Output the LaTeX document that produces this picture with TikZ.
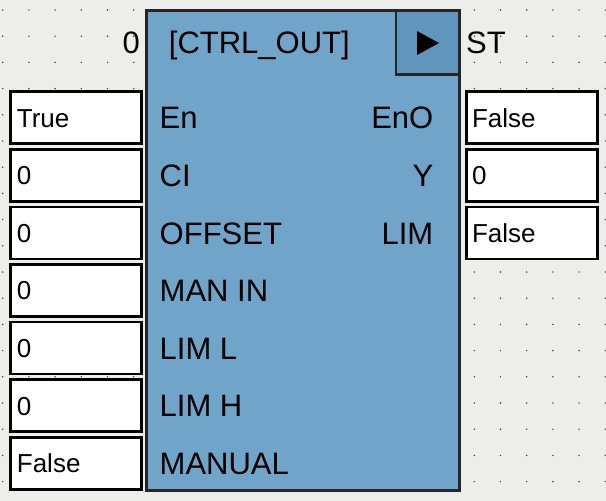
\documentclass[tikz,border=0pt]{standalone}
\usepackage{fontspec}
\setmainfont{Liberation Sans}
\definecolor{bgc}{HTML}{EDEDEB}
\definecolor{blkc}{HTML}{70A4C8}
\definecolor{trgc}{HTML}{6096BD}
\definecolor{dotc}{HTML}{3A3A3A}

\begin{document}
\begin{tikzpicture}[x=1pt,y=-1pt,
  valbox/.style={draw=black,line width=2.6pt,fill=white,minimum width=131pt,minimum height=52pt,inner sep=0pt},
  valtxt/.style={font=\fontsize{26}{30}\selectfont,text height=18.6pt,text depth=0pt,inner sep=0pt,anchor=west},
  pintxt/.style={font=\fontsize{31}{37}\selectfont,text height=22.2pt,text depth=0pt,inner sep=0pt}]
  \fill[bgc] (0,0) rectangle (606,501);
  \useasboundingbox (0,0) rectangle (606,501);
  % dot grid
  \foreach \i in {0,...,23}
    \foreach \j in {0,...,18}
      \fill[dotc] (2.7+26.2*\i,10+26.2*\j) circle (0.8pt);
  % block
  \node[draw=black!85,line width=2.6pt,fill=blkc,minimum width=313pt,minimum height=480pt,inner sep=0pt] (blk) at (303,250.7) {};
  \node[draw=black!85,line width=2.6pt,fill=trgc,minimum width=63.5pt,minimum height=64pt,inner sep=0pt] (trg) at (427.8,42.6) {};
  \fill (417,31)--(417,55)--(439,43)--cycle;
  \node[pintxt,anchor=west] (title) at (168.7,42) {[CTRL\_OUT]};
  \node[pintxt,anchor=east] (num) at (140,42) {0};
  \node[pintxt,anchor=west] (st) at (466,42) {ST};
  % inputs
  \foreach \val/\lab [count=\i from 0] in {True/En,0/CI,0/OFFSET,0/MAN IN,0/LIM L,0/LIM H,False/MANUAL}{
    \node[valbox] (in\i) at (76,117.7+57.6*\i) {};
    \node[valtxt] (inv\i) at ([xshift=7.5pt]in\i.west) {\val};
    \node[pintxt,anchor=west] (inl\i) at (159.5,117.7+57.6*\i) {\lab};
  }
  % outputs
  \foreach \val/\lab [count=\i from 0] in {False/EnO,0/Y,False/LIM}{
    \node[valbox] (out\i) at (531.7,117.7+57.6*\i) {};
    \node[valtxt] (outv\i) at ([xshift=7pt]out\i.west) {\val};
    \node[pintxt,anchor=east] (outl\i) at (433.5,117.7+57.6*\i) {\lab};
  }
\end{tikzpicture}
\end{document}
